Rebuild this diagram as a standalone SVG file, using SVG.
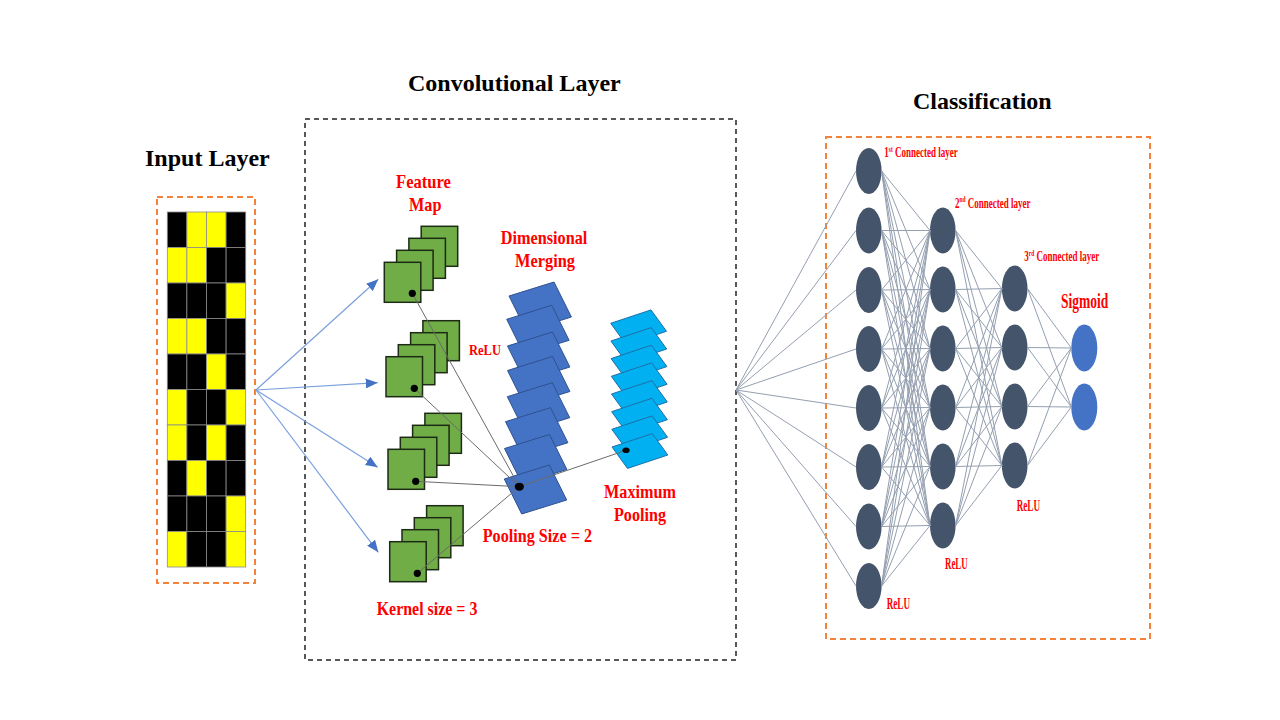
<svg xmlns="http://www.w3.org/2000/svg" width="1280" height="720" viewBox="0 0 1280 720">
<style>
.title{font-family:"Liberation Serif","Times New Roman",serif;font-weight:bold;font-size:24px;fill:#000}
.lbl{font-family:"Liberation Serif","Times New Roman",serif;font-weight:bold;fill:#FF0000}
.obox{fill:none;stroke:#F4823A;stroke-width:2;stroke-dasharray:6,4}
.kbox{fill:none;stroke:#222;stroke-width:1.5;stroke-dasharray:5,4}
.cb{fill:#000;stroke:#8a8a8a;stroke-width:0.8}
.cy{fill:#FFFF00;stroke:#8a8a8a;stroke-width:0.8}
.fm{fill:#70AD47;stroke:#1d2a14;stroke-width:1.5}
.dm{fill:#4472C4;stroke:#2F528F;stroke-width:1}
.mp{fill:#00B0F0;stroke:#1F6FA8;stroke-width:1}
.nd{fill:#44546A}
.out{fill:#4472C4}
.arr{fill:none;stroke:#7BA0DC;stroke-width:1.2;marker-end:url(#ah)}
.cl{fill:none;stroke:#6b6b6b;stroke-width:1}
.nn{fill:none;stroke:#949FB0;stroke-width:1}
.dot{fill:#000}
</style>
<defs>
<marker id="ah" viewBox="0 0 12 10" refX="12" refY="5" markerWidth="12" markerHeight="10" markerUnits="userSpaceOnUse" orient="auto">
<path d="M0 0L12 5L0 10z" fill="#4472C4"/>
</marker>
</defs>
<rect width="1280" height="720" fill="#fff"/>

<g id="frames">
<rect class="obox" x="157" y="197" width="98" height="386"/>
<rect class="kbox" x="305" y="119" width="431" height="541"/>
<rect class="obox" x="826" y="137" width="324" height="502"/>
</g>

<g id="titles">
<text class="title" x="145" y="166">Input Layer</text>
<text class="title" x="408" y="90.5">Convolutional Layer</text>
<text class="title" x="913" y="109">Classification</text>
</g>

<g id="labels">
<text class="lbl" font-size="19" x="396" y="188" textLength="55" lengthAdjust="spacingAndGlyphs">Feature</text>
<text class="lbl" font-size="19" x="409" y="211" textLength="32.5" lengthAdjust="spacingAndGlyphs">Map</text>
<text class="lbl" font-size="19" x="500.7" y="243.5" textLength="86.7" lengthAdjust="spacingAndGlyphs">Dimensional</text>
<text class="lbl" font-size="19" x="515" y="267" textLength="60" lengthAdjust="spacingAndGlyphs">Merging</text>
<text class="lbl" font-size="15" x="469" y="355" textLength="32" lengthAdjust="spacingAndGlyphs">ReLU</text>
<text class="lbl" font-size="19" x="482.7" y="541.7" textLength="109.3" lengthAdjust="spacingAndGlyphs">Pooling Size = 2</text>
<text class="lbl" font-size="19" x="604" y="498.3" textLength="72" lengthAdjust="spacingAndGlyphs">Maximum</text>
<text class="lbl" font-size="19" x="614" y="521" textLength="52" lengthAdjust="spacingAndGlyphs">Pooling</text>
<text class="lbl" font-size="19" x="376.7" y="615" textLength="100.7" lengthAdjust="spacingAndGlyphs">Kernel size = 3</text>
<text class="lbl" font-size="15" transform="translate(884.3 157.3) scale(0.6 1)">1<tspan font-size="9" dy="-5.5">st</tspan><tspan dy="5.5"> Connected layer</tspan></text>
<text class="lbl" font-size="15" transform="translate(955 207.7) scale(0.6 1)">2<tspan font-size="9" dy="-5.5">nd</tspan><tspan dy="5.5"> Connected layer</tspan></text>
<text class="lbl" font-size="15" transform="translate(1024.3 261) scale(0.6 1)">3<tspan font-size="9" dy="-5.5">rd</tspan><tspan dy="5.5"> Connected layer</tspan></text>
<text class="lbl" font-size="22" x="1061" y="308" textLength="47.3" lengthAdjust="spacingAndGlyphs">Sigmoid</text>
<text class="lbl" font-size="16" x="886.7" y="609.3" textLength="23.3" lengthAdjust="spacingAndGlyphs">ReLU</text>
<text class="lbl" font-size="16" x="945" y="569.3" textLength="22.7" lengthAdjust="spacingAndGlyphs">ReLU</text>
<text class="lbl" font-size="16" x="1016.7" y="511" textLength="23.3" lengthAdjust="spacingAndGlyphs">ReLU</text>
</g>

<g id="input-grid">
<rect class="cb" x="167.3" y="212" width="19.6" height="35.5"/><rect class="cy" x="186.9" y="212" width="19.6" height="35.5"/><rect class="cy" x="206.5" y="212" width="19.6" height="35.5"/><rect class="cb" x="226.1" y="212" width="19.6" height="35.5"/>
<rect class="cy" x="167.3" y="247.5" width="19.6" height="35.5"/><rect class="cy" x="186.9" y="247.5" width="19.6" height="35.5"/><rect class="cb" x="206.5" y="247.5" width="19.6" height="35.5"/><rect class="cb" x="226.1" y="247.5" width="19.6" height="35.5"/>
<rect class="cb" x="167.3" y="283" width="19.6" height="35.5"/><rect class="cb" x="186.9" y="283" width="19.6" height="35.5"/><rect class="cb" x="206.5" y="283" width="19.6" height="35.5"/><rect class="cy" x="226.1" y="283" width="19.6" height="35.5"/>
<rect class="cy" x="167.3" y="318.5" width="19.6" height="35.5"/><rect class="cy" x="186.9" y="318.5" width="19.6" height="35.5"/><rect class="cb" x="206.5" y="318.5" width="19.6" height="35.5"/><rect class="cb" x="226.1" y="318.5" width="19.6" height="35.5"/>
<rect class="cb" x="167.3" y="354" width="19.6" height="35.5"/><rect class="cb" x="186.9" y="354" width="19.6" height="35.5"/><rect class="cy" x="206.5" y="354" width="19.6" height="35.5"/><rect class="cb" x="226.1" y="354" width="19.6" height="35.5"/>
<rect class="cy" x="167.3" y="389.5" width="19.6" height="35.5"/><rect class="cb" x="186.9" y="389.5" width="19.6" height="35.5"/><rect class="cb" x="206.5" y="389.5" width="19.6" height="35.5"/><rect class="cy" x="226.1" y="389.5" width="19.6" height="35.5"/>
<rect class="cy" x="167.3" y="425" width="19.6" height="35.5"/><rect class="cb" x="186.9" y="425" width="19.6" height="35.5"/><rect class="cy" x="206.5" y="425" width="19.6" height="35.5"/><rect class="cb" x="226.1" y="425" width="19.6" height="35.5"/>
<rect class="cb" x="167.3" y="460.5" width="19.6" height="35.5"/><rect class="cy" x="186.9" y="460.5" width="19.6" height="35.5"/><rect class="cb" x="206.5" y="460.5" width="19.6" height="35.5"/><rect class="cb" x="226.1" y="460.5" width="19.6" height="35.5"/>
<rect class="cb" x="167.3" y="496" width="19.6" height="35.5"/><rect class="cb" x="186.9" y="496" width="19.6" height="35.5"/><rect class="cb" x="206.5" y="496" width="19.6" height="35.5"/><rect class="cy" x="226.1" y="496" width="19.6" height="35.5"/>
<rect class="cy" x="167.3" y="531.5" width="19.6" height="35.5"/><rect class="cb" x="186.9" y="531.5" width="19.6" height="35.5"/><rect class="cb" x="206.5" y="531.5" width="19.6" height="35.5"/><rect class="cy" x="226.1" y="531.5" width="19.6" height="35.5"/>
</g>

<g id="feature-map-1">
<rect class="fm" x="421.2" y="226.3" width="36.5" height="40"/>
<rect class="fm" x="408.9" y="238.3" width="36.5" height="40"/>
<rect class="fm" x="396.6" y="250.3" width="36.5" height="40"/>
<rect class="fm" x="384.3" y="262.3" width="36.5" height="40"/>
</g>
<g id="feature-map-2">
<rect class="fm" x="422.9" y="320.7" width="36.5" height="40"/>
<rect class="fm" x="410.6" y="332.7" width="36.5" height="40"/>
<rect class="fm" x="398.3" y="344.7" width="36.5" height="40"/>
<rect class="fm" x="386" y="356.7" width="36.5" height="40"/>
</g>
<g id="feature-map-3">
<rect class="fm" x="424.9" y="413.3" width="36.5" height="40"/>
<rect class="fm" x="412.6" y="425.3" width="36.5" height="40"/>
<rect class="fm" x="400.3" y="437.3" width="36.5" height="40"/>
<rect class="fm" x="388" y="449.3" width="36.5" height="40"/>
</g>
<g id="feature-map-4">
<rect class="fm" x="426.6" y="505.7" width="36.5" height="40"/>
<rect class="fm" x="414.3" y="517.7" width="36.5" height="40"/>
<rect class="fm" x="402" y="529.7" width="36.5" height="40"/>
<rect class="fm" x="389.7" y="541.7" width="36.5" height="40"/>
</g>

<g id="dimensional-merging">
<path class="dm" d="M509 296l45 -14l17.4 35l-45 14z"/>
<path class="dm" d="M506.7 319.3l45 -14l17.4 35l-45 14z"/>
<path class="dm" d="M507.5 346l45 -14l17.4 35l-45 14z"/>
<path class="dm" d="M507.5 370.5l45 -14l17.4 35l-45 14z"/>
<path class="dm" d="M507.3 396.7l45 -14l17.4 35l-45 14z"/>
<path class="dm" d="M505.5 421.7l45 -14l17.4 35l-45 14z"/>
<path class="dm" d="M504.5 448.5l45 -14l17.4 35l-45 14z"/>
<path class="dm" d="M504.3 479l45 -14l17.4 35l-45 14z"/>
</g>

<g id="maximum-pooling">
<path class="mp" d="M610.7 323.3l40.3 -13.4l15.5 21.4l-40.3 13.4z"/>
<path class="mp" d="M610.9 341l40.3 -13.4l15.5 21.4l-40.3 13.4z"/>
<path class="mp" d="M611.1 358.6l40.3 -13.4l15.5 21.4l-40.3 13.4z"/>
<path class="mp" d="M611.3 376.3l40.3 -13.4l15.5 21.4l-40.3 13.4z"/>
<path class="mp" d="M611.5 394l40.3 -13.4l15.5 21.4l-40.3 13.4z"/>
<path class="mp" d="M611.6 411.7l40.3 -13.4l15.5 21.4l-40.3 13.4z"/>
<path class="mp" d="M611.8 429.3l40.3 -13.4l15.5 21.4l-40.3 13.4z"/>
<path class="mp" d="M612 447l40.3 -13.4l15.5 21.4l-40.3 13.4z"/>
</g>

<g id="fc-layer-1">
<ellipse class="nd" cx="868.8" cy="171" rx="12.8" ry="23"/>
<ellipse class="nd" cx="868.8" cy="230.5" rx="12.8" ry="23"/>
<ellipse class="nd" cx="868.8" cy="290" rx="12.8" ry="23"/>
<ellipse class="nd" cx="868.8" cy="349" rx="12.8" ry="23"/>
<ellipse class="nd" cx="868.8" cy="408" rx="12.8" ry="23"/>
<ellipse class="nd" cx="868.8" cy="467" rx="12.8" ry="23"/>
<ellipse class="nd" cx="868.8" cy="526.5" rx="12.8" ry="23"/>
<ellipse class="nd" cx="868.8" cy="586" rx="12.8" ry="23"/>
</g>
<g id="fc-layer-2">
<ellipse class="nd" cx="942.8" cy="230.5" rx="12.8" ry="23"/>
<ellipse class="nd" cx="942.8" cy="289.5" rx="12.8" ry="23"/>
<ellipse class="nd" cx="942.8" cy="348.5" rx="12.8" ry="23"/>
<ellipse class="nd" cx="942.8" cy="407.5" rx="12.8" ry="23"/>
<ellipse class="nd" cx="942.8" cy="466.5" rx="12.8" ry="23"/>
<ellipse class="nd" cx="942.8" cy="525.5" rx="12.8" ry="23"/>
</g>
<g id="fc-layer-3">
<ellipse class="nd" cx="1014.7" cy="288.5" rx="12.8" ry="23"/>
<ellipse class="nd" cx="1014.7" cy="347.5" rx="12.8" ry="23"/>
<ellipse class="nd" cx="1014.7" cy="406.5" rx="12.8" ry="23"/>
<ellipse class="nd" cx="1014.7" cy="465.5" rx="12.8" ry="23"/>
</g>
<g id="sigmoid-output">
<ellipse class="out" cx="1084.3" cy="348" rx="13" ry="23.5"/>
<ellipse class="out" cx="1084.3" cy="407" rx="13" ry="23.5"/>
</g>

<g id="connectors">
<line class="arr" x1="256" y1="390" x2="378.3" y2="279.3"/>
<line class="arr" x1="256" y1="390" x2="377.7" y2="382.7"/>
<line class="arr" x1="256" y1="390" x2="377.7" y2="467.3"/>
<line class="arr" x1="256" y1="390" x2="378.3" y2="552.3"/>
<line class="cl" x1="412.3" y1="293.3" x2="519.3" y2="486.7"/>
<line class="cl" x1="414.3" y1="388.3" x2="519.3" y2="486.7"/>
<line class="cl" x1="415.7" y1="481.3" x2="519.3" y2="486.7"/>
<line class="cl" x1="417.3" y1="573.3" x2="519.3" y2="486.7"/>
<line class="cl" x1="519.3" y1="486.7" x2="626" y2="450.3"/>
<path class="nn" d="M736 390L856 171M736 390L856 230.5M736 390L856 290M736 390L856 349M736 390L856 408M736 390L856 467M736 390L856 526.5M736 390L856 586"/>
<path class="nn" d="M881.6 171L930 230.5M881.6 171L930 289.5M881.6 171L930 348.5M881.6 171L930 407.5M881.6 171L930 466.5M881.6 171L930 525.5"/>
<path class="nn" d="M881.6 230.5L930 230.5M881.6 230.5L930 289.5M881.6 230.5L930 348.5M881.6 230.5L930 407.5M881.6 230.5L930 466.5M881.6 230.5L930 525.5"/>
<path class="nn" d="M881.6 290L930 230.5M881.6 290L930 289.5M881.6 290L930 348.5M881.6 290L930 407.5M881.6 290L930 466.5M881.6 290L930 525.5"/>
<path class="nn" d="M881.6 349L930 230.5M881.6 349L930 289.5M881.6 349L930 348.5M881.6 349L930 407.5M881.6 349L930 466.5M881.6 349L930 525.5"/>
<path class="nn" d="M881.6 408L930 230.5M881.6 408L930 289.5M881.6 408L930 348.5M881.6 408L930 407.5M881.6 408L930 466.5M881.6 408L930 525.5"/>
<path class="nn" d="M881.6 467L930 230.5M881.6 467L930 289.5M881.6 467L930 348.5M881.6 467L930 407.5M881.6 467L930 466.5M881.6 467L930 525.5"/>
<path class="nn" d="M881.6 526.5L930 230.5M881.6 526.5L930 289.5M881.6 526.5L930 348.5M881.6 526.5L930 407.5M881.6 526.5L930 466.5M881.6 526.5L930 525.5"/>
<path class="nn" d="M881.6 586L930 230.5M881.6 586L930 289.5M881.6 586L930 348.5M881.6 586L930 407.5M881.6 586L930 466.5M881.6 586L930 525.5"/>
<path class="nn" d="M955.6 230.5L1001.9 288.5M955.6 230.5L1001.9 347.5M955.6 230.5L1001.9 406.5M955.6 230.5L1001.9 465.5"/>
<path class="nn" d="M955.6 289.5L1001.9 288.5M955.6 289.5L1001.9 347.5M955.6 289.5L1001.9 406.5M955.6 289.5L1001.9 465.5"/>
<path class="nn" d="M955.6 348.5L1001.9 288.5M955.6 348.5L1001.9 347.5M955.6 348.5L1001.9 406.5M955.6 348.5L1001.9 465.5"/>
<path class="nn" d="M955.6 407.5L1001.9 288.5M955.6 407.5L1001.9 347.5M955.6 407.5L1001.9 406.5M955.6 407.5L1001.9 465.5"/>
<path class="nn" d="M955.6 466.5L1001.9 288.5M955.6 466.5L1001.9 347.5M955.6 466.5L1001.9 406.5M955.6 466.5L1001.9 465.5"/>
<path class="nn" d="M955.6 525.5L1001.9 288.5M955.6 525.5L1001.9 347.5M955.6 525.5L1001.9 406.5M955.6 525.5L1001.9 465.5"/>
<path class="nn" d="M1027.5 288.5L1071.3 348M1027.5 288.5L1071.3 407M1027.5 347.5L1071.3 348M1027.5 347.5L1071.3 407M1027.5 406.5L1071.3 348M1027.5 406.5L1071.3 407M1027.5 465.5L1071.3 348M1027.5 465.5L1071.3 407"/>
</g>

<g id="dots">
<circle class="dot" cx="412.3" cy="293.3" r="3.6"/>
<circle class="dot" cx="414.3" cy="388.3" r="3.6"/>
<circle class="dot" cx="415.7" cy="481.3" r="3.6"/>
<circle class="dot" cx="417.3" cy="573.3" r="3.6"/>
<ellipse class="dot" cx="519.3" cy="486.7" rx="4.6" ry="4"/>
<ellipse class="dot" cx="626" cy="450.3" rx="3.6" ry="2.8"/>
</g>
</svg>
